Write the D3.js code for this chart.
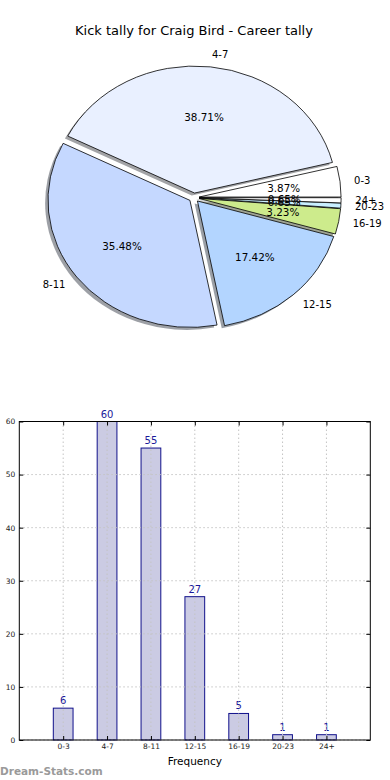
<!DOCTYPE html>
<html><head><meta charset="utf-8">
<script src="https://cdn.jsdelivr.net/npm/d3@7"></script>
<style>body{margin:0;background:#fff} svg{display:block;font-family:"DejaVu Sans",sans-serif}</style>
</head><body><svg id="c" width="390" height="780"></svg>
<script>
const categories = ["0-3","4-7","8-11","12-15","16-19","20-23","24+"];
const counts = [6,60,55,27,5,1,1];
const sliceColors = ["#ffffff","#e9f0ff","#c5d8ff","#b3d5ff","#cdeb8c","#c9efff","#ffffff"];
const yTicks = [0,10,20,30,40,50,60];
const title = "Kick tally for Craig Bird - Career tally";
const xAxisLabel = "Frequency";
const watermark = "Dream-Stats.com";

const svg = d3.select("#c");
const total = d3.sum(counts);

// title
svg.append("text").attr("x",194).attr("y",34.5).attr("text-anchor","middle")
  .attr("font-size",13).attr("fill","#000").text(title);

// ---- Pie (matplotlib style ellipse, exploded, with shadow) ----
const cx=194, cy=197.6, rx=142, ry=127, explode=0.036;
const pie = d3.pie().sort(null).value(d=>d).startAngle(Math.PI/2).endAngle(Math.PI/2 - 2*Math.PI);
const arcs = pie(counts);
const arcGen = d3.arc().innerRadius(0).outerRadius(1);
const geo = arcs.map((d,i)=>{
  const a=(d.startAngle+d.endAngle)/2;
  const ux=Math.sin(a), uy=-Math.cos(a);
  return {d,i,ux,uy,ox:cx+explode*rx*ux, oy:cy+explode*ry*uy};
});
const gShadow = svg.append("g");
geo.forEach(g=>{
  const c=d3.rgb(sliceColors[g.i]);
  const sc=d3.rgb(c.r*0.3,c.g*0.3,c.b*0.3);
  gShadow.append("path").attr("d",arcGen(g.d))
    .attr("transform",`translate(${g.ox-0.02*rx},${g.oy+0.02*ry}) scale(${rx},${ry})`)
    .attr("fill",sc).attr("fill-opacity",0.5).attr("stroke","none");
});
const gPie = svg.append("g");
geo.forEach(g=>{
  gPie.append("path").attr("d",arcGen(g.d))
    .attr("transform",`translate(${g.ox},${g.oy}) scale(${rx},${ry})`)
    .attr("fill",sliceColors[g.i]).attr("stroke","#000").attr("stroke-width",0.8)
    .attr("vector-effect","non-scaling-stroke");
});
const fmt=d3.format(".2f");
geo.forEach(g=>{
  svg.append("text").attr("x",g.ox+1.1*rx*g.ux).attr("y",g.oy+1.1*ry*g.uy).attr("dy","0.36em")
    .attr("text-anchor",g.ux>0?"start":"end").attr("font-size",10).attr("fill","#000")
    .text(categories[g.i]);
  svg.append("text").attr("x",g.ox+0.6*rx*g.ux).attr("y",g.oy+0.6*ry*g.uy).attr("dy","0.36em")
    .attr("text-anchor","middle").attr("font-size",10.4).attr("fill","#000")
    .text(fmt(counts[g.i]/total*100)+"%");
});

// ---- Bar chart ----
const L=19.3,R=370.3,T=421.5,B=740;
const x=d3.scaleLinear().domain([-1,categories.length]).range([L,R]);
const y=d3.scaleLinear().domain([0,60]).range([B,T]);
const bw=0.45;
const gb=svg.append("g");
gb.selectAll("rect.bar").data(counts).join("rect").attr("class","bar")
  .attr("x",(d,i)=>x(i-bw/2)).attr("width",x(bw)-x(0))
  .attr("y",d=>y(d)).attr("height",d=>B-y(d))
  .attr("fill","#cbcbe3").attr("stroke","#10108a").attr("stroke-width",1);
// grid
const gg=svg.append("g").attr("stroke","#c4c4c4").attr("stroke-width",1).attr("stroke-dasharray","1.5,2.5");
categories.forEach((c,i)=>gg.append("line").attr("x1",x(i)).attr("x2",x(i)).attr("y1",T).attr("y2",B));
yTicks.forEach(t=>gg.append("line").attr("x1",L).attr("x2",R).attr("y1",y(t)).attr("y2",y(t)));
// axes
const axL=svg.append("g").attr("transform",`translate(${L},0)`)
  .call(d3.axisLeft(y).tickValues(yTicks).tickSize(-4).tickSizeOuter(0).tickPadding(4));
const axR=svg.append("g").attr("transform",`translate(${R},0)`)
  .call(d3.axisRight(y).tickValues(yTicks).tickSize(-4).tickSizeOuter(0).tickFormat(""));
const axB=svg.append("g").attr("transform",`translate(0,${B})`)
  .call(d3.axisBottom(x).tickValues(d3.range(categories.length)).tickFormat(i=>categories[i]).tickSize(-4).tickSizeOuter(0).tickPadding(4));
const axT=svg.append("g").attr("transform",`translate(0,${T})`)
  .call(d3.axisTop(x).tickValues(d3.range(categories.length)).tickSize(-4).tickSizeOuter(0).tickFormat(""));
[axL,axR,axB,axT].forEach(a=>{
  a.selectAll(".domain").remove();
  a.selectAll("text").attr("font-size",7.5).attr("font-family","DejaVu Sans").attr("fill","#222");
  a.selectAll("line").attr("stroke","#000");
});
svg.append("rect").attr("x",L).attr("y",T).attr("width",R-L).attr("height",B-T)
  .attr("fill","none").attr("stroke","#000").attr("stroke-width",1);
// value labels
gb.selectAll("text.val").data(counts).join("text").attr("class","val")
  .attr("x",(d,i)=>x(i)).attr("y",d=>y(d)-4).attr("text-anchor","middle")
  .attr("font-size",10).attr("fill","#1a1a9a").text(d=>d);
svg.append("text").attr("x",(L+R)/2).attr("y",764.5).attr("text-anchor","middle")
  .attr("font-size",10.5).attr("fill","#000").text(xAxisLabel);
svg.append("text").attr("x",0).attr("y",774.5).attr("font-size",10.5).attr("font-weight","bold")
  .attr("fill","#9a9a9a").text(watermark);
</script></body></html>
